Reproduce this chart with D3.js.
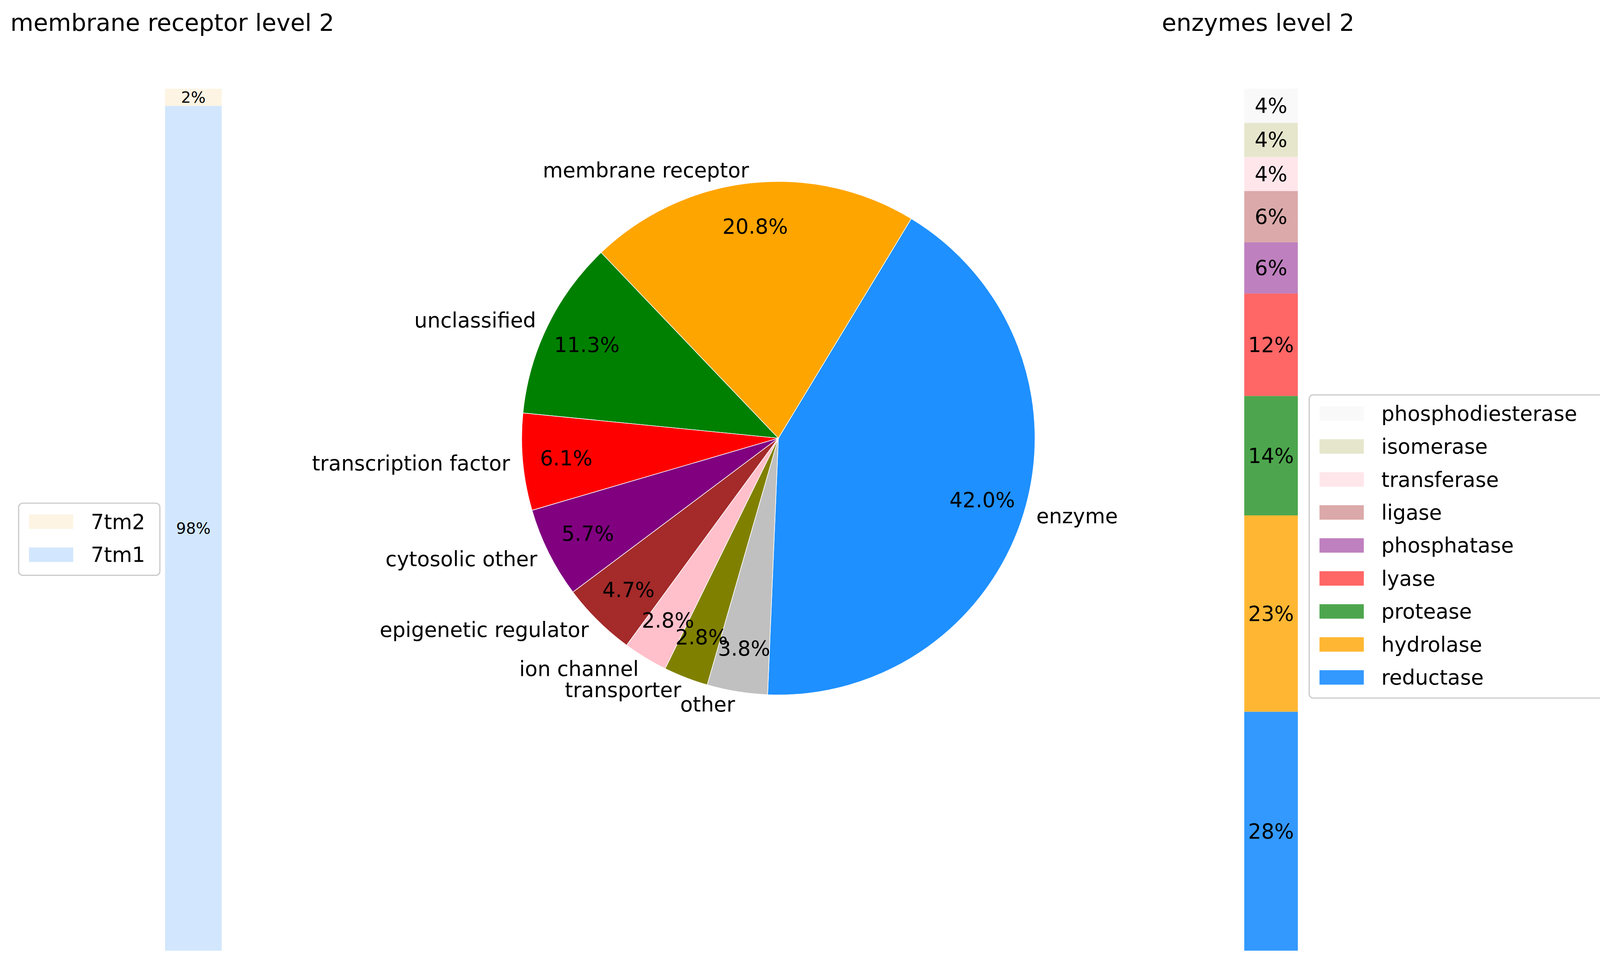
<!DOCTYPE html>
<html><head><meta charset="utf-8">
<script src="https://cdn.jsdelivr.net/npm/d3@7"></script>
<style>body{margin:0;background:#fff}text{font-family:"DejaVu Sans",sans-serif}</style>
</head><body><svg id="c" width="4117" height="2462" viewBox="0 0 1560 933"></svg>
<script>
// pie data
const pieLabels = ["enzyme", "membrane receptor", "unclassified", "transcription factor", "cytosolic other",
  "epigenetic regulator", "ion channel", "transporter", "other"];
const pieValues = [42.0, 20.8, 11.3, 6.1, 5.7, 4.7, 2.8, 2.8, 3.8];
const pieColors = ["#1e90ff", "#ffa500", "#008000", "#ff0000", "#800080", "#a52a2a", "#ffc0cb", "#808000", "#c0c0c0"];

// membrane receptor level 2 (bottom to top)
const memLabels = ["7tm1", "7tm2"];
const memValues = [98, 2];
const memColors = ["#d2e7fd", "#fdf4e3"];

// enzymes level 2 (bottom to top)
const enzLabels = ["reductase", "hydrolase", "protease", "lyase", "phosphatase", "ligase", "transferase", "isomerase", "phosphodiesterase"];
const enzValues = [28, 23, 14, 12, 6, 6, 4, 4, 4];
const enzColors = ["#3399ff", "#ffb733", "#4da64d", "#ff6666", "#bf80bf", "#dba9a9", "#ffe6eb", "#e6e6cc", "#f9f9f9"];

const svg = d3.select("#c");

// ---- pie
const cx = 755, cy = 425, R = 249;
const startDeg = -92.4; // math angle, counterclockwise
const pie = d3.pie().sort(null).value(d => d)
  .startAngle(0).endAngle(2 * Math.PI);
const arcs = pie(pieValues);
// d3 angles are clockwise from 12 o'clock; we want ccw from startDeg
const toD3 = a => (90 - (startDeg + a * 180 / Math.PI)) * Math.PI / 180;
const arc = d3.arc().innerRadius(0).outerRadius(R);
const g = svg.append("g").attr("transform", `translate(${cx},${cy})`);
arcs.forEach((a, i) => {
  const s = toD3(a.startAngle), e = toD3(a.endAngle);
  g.append("path").attr("d", arc({startAngle: e, endAngle: s}))
    .attr("fill", pieColors[i]).attr("stroke", "#fff").attr("stroke-width", 0.6);
});
arcs.forEach((a, i) => {
  const mid = (startDeg + (a.startAngle + a.endAngle) / 2 * 180 / Math.PI) * Math.PI / 180;
  const lx = 1.05 * R * Math.cos(mid), ly = -1.05 * R * Math.sin(mid);
  g.append("text").attr("x", lx).attr("y", ly).attr("dy", "0.35em")
    .attr("text-anchor", lx >= 0 ? "start" : "end").attr("font-size", 20).text(pieLabels[i]);
  const px = 0.83 * R * Math.cos(mid), py = -0.83 * R * Math.sin(mid);
  g.append("text").attr("x", px).attr("y", py).attr("dy", "0.35em")
    .attr("text-anchor", "middle").attr("font-size", 20).text(pieValues[i].toFixed(1) + "%");
});

// ---- stacked bars
function stackBar(x0, w, labels, values, colors, fs) {
  const total = d3.sum(values);
  const y = d3.scaleLinear().domain([0, total]).range([922, 86]);
  let acc = 0;
  values.forEach((v, i) => {
    const y0 = y(acc), y1 = y(acc + v);
    svg.append("rect").attr("x", x0).attr("width", w).attr("y", y1).attr("height", y0 - y1).attr("fill", colors[i]);
    svg.append("text").attr("x", x0 + w / 2).attr("y", (y0 + y1) / 2).attr("dy", "0.35em")
      .attr("text-anchor", "middle").attr("font-size", fs).text(v + "%");
    acc += v;
  });
}
stackBar(160, 55, memLabels, memValues, memColors, 15);
stackBar(1207, 52, enzLabels, enzValues, enzColors, 20);

// ---- titles
svg.append("text").attr("x", 10).attr("y", 30).attr("font-size", 23).text("membrane receptor level 2");
svg.append("text").attr("x", 1127).attr("y", 30).attr("font-size", 23).text("enzymes level 2");

// ---- legends
function legend(x, y, w, labels, colors) {
  const rows = labels.slice().reverse(), cols = colors.slice().reverse();
  const h = rows.length * 32 + 6;
  svg.append("rect").attr("x", x).attr("y", y).attr("width", w).attr("height", h).attr("rx", 4)
    .attr("fill", "#fff").attr("stroke", "#ccc").attr("stroke-width", 1.2);
  rows.forEach((t, i) => {
    const ry = y + 18 + i * 32;
    svg.append("rect").attr("x", x + 10).attr("y", ry - 7).attr("width", 43).attr("height", 14).attr("fill", cols[i]);
    svg.append("text").attr("x", x + 70).attr("y", ry).attr("dy", "0.35em").attr("font-size", 20).text(t);
  });
}
legend(18, 488, 137, memLabels, memColors);
legend(1270, 383, 285, enzLabels, enzColors);
</script></body></html>
